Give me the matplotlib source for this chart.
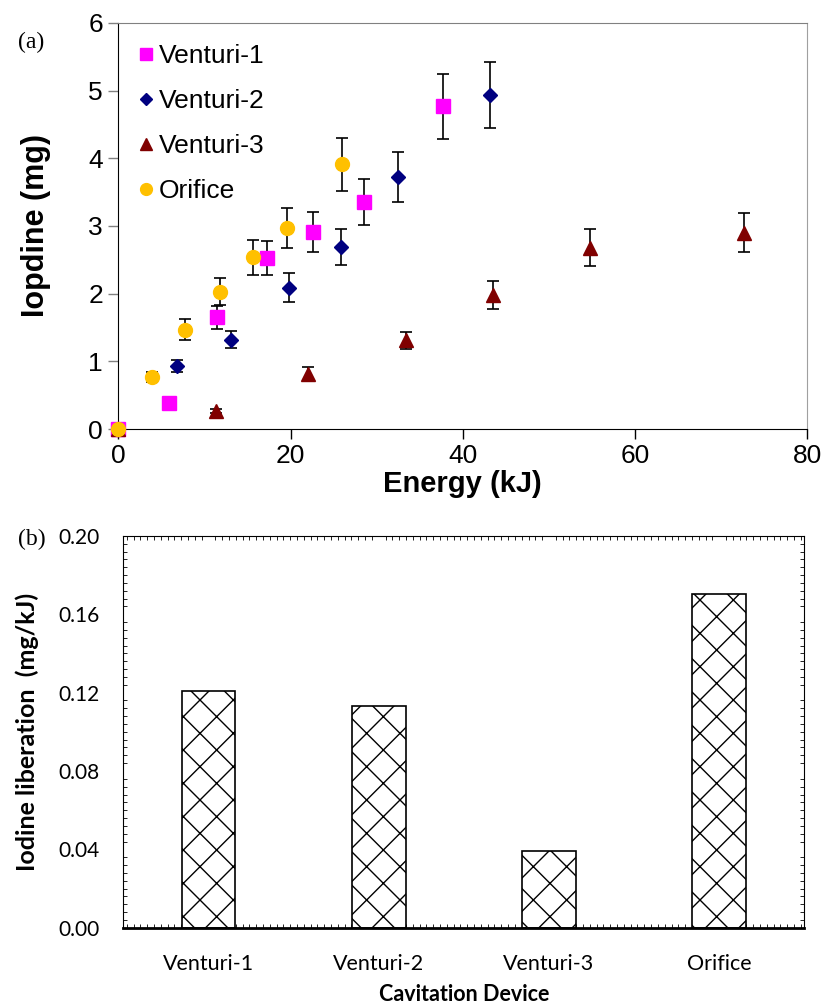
import matplotlib.pyplot as plt
import numpy as np
from matplotlib.ticker import MultipleLocator

# ---- data, panel (a): iodine liberated vs energy ----
v1_x = [0, 5.9, 11.5, 17.3, 22.6, 28.5, 37.7]
v1_y = [0, 0.38, 1.65, 2.53, 2.91, 3.35, 4.77]
v1_err = [0, 0, 0.17, 0.25, 0.29, 0.34, 0.48]

v2_x = [0, 6.8, 13.1, 19.8, 25.8, 32.5, 43.1]
v2_y = [0, 0.93, 1.32, 2.09, 2.69, 3.73, 4.94]
v2_err = [0, 0.09, 0.13, 0.21, 0.27, 0.37, 0.49]

v3_x = [0, 11.3, 22.0, 33.4, 43.5, 54.8, 72.6]
v3_y = [0, 0.26, 0.81, 1.31, 1.98, 2.68, 2.90]
v3_err = [0, 0.03, 0.10, 0.13, 0.20, 0.27, 0.29]

or_x = [0, 3.9, 7.8, 11.75, 15.65, 19.6, 26.0]
or_y = [0, 0.77, 1.47, 2.03, 2.54, 2.97, 3.91]
or_err = [0, 0.07, 0.15, 0.20, 0.26, 0.30, 0.39]

# ---- data, panel (b): iodine liberation per energy ----
devices = ['Venturi-1', 'Venturi-2', 'Venturi-3', 'Orifice']
liberation = [0.121, 0.113, 0.039, 0.1705]

fig = plt.figure(figsize=(8.25, 10.08), dpi=100)

# panel (a)
ax1 = fig.add_axes([0.1434, 0.5744, 0.8352, 0.4028])
series = [
    (v1_x, v1_y, v1_err, 's', '#FF00FF', 9.5, 'Venturi-1'),
    (v2_x, v2_y, v2_err, 'D', '#000080', 7.0, 'Venturi-2'),
    (v3_x, v3_y, v3_err, '^', '#800000', 9.5, 'Venturi-3'),
    (or_x, or_y, or_err, 'o', '#FFC000', 10.0, 'Orifice'),
]
for xs, ys, es, mk, col, ms, lab in series:
    ax1.errorbar(xs, ys, yerr=es, fmt='none', ecolor='black', elinewidth=1.2,
                 capsize=4.5, capthick=1.2, zorder=2)
    ax1.plot(xs, ys, linestyle='none', marker=mk, color=col, markersize=ms,
             label=lab, zorder=3, clip_on=False)

ax1.set_xlim(0, 80)
ax1.set_ylim(0, 6)
ax1.xaxis.set_major_locator(MultipleLocator(20))
ax1.yaxis.set_major_locator(MultipleLocator(1))
ax1.tick_params(direction='out', length=7, width=1, labelsize=19, pad=4,
                labelfontfamily='Liberation Sans')
ax1.tick_params(axis='y', color='#808080')
ax1.spines['top'].set_color('#808080')
ax1.spines['right'].set_color('#A0A0A0')
ax1.set_xlabel('Energy (kJ)', fontsize=21, fontweight='bold',
               family='Liberation Sans', labelpad=1)
ax1.set_ylabel('Iopdine (mg)', fontsize=22, fontweight='bold',
               family='Liberation Sans', labelpad=27)
leg = ax1.legend(loc='upper left', frameon=False,
                 prop={'family': 'Liberation Sans', 'size': 19},
                 handletextpad=0.25, handlelength=0.5, labelspacing=0.8,
                 borderaxespad=0.4, markerscale=0.85)

# panel (b)
ax2 = fig.add_axes([0.1495, 0.0796, 0.8254, 0.3888])
xpos = np.arange(len(devices))
ax2.bar(xpos, liberation, width=0.315, color='white', edgecolor='black',
        linewidth=1.2, hatch='x', zorder=2)
ax2.set_xlim(-0.5, 3.5)
ax2.set_ylim(0, 0.20)
ax2.set_xticks(xpos)
ax2.set_xticklabels(devices)
ax2.yaxis.set_major_locator(MultipleLocator(0.04))
ax2.yaxis.set_minor_locator(MultipleLocator(0.004))
ax2.xaxis.set_minor_locator(MultipleLocator(0.04))
ax2.yaxis.set_major_formatter(plt.FormatStrFormatter('%.2f'))
ax2.tick_params(axis='x', which='major', length=0, pad=19, labelsize=15.5)
ax2.tick_params(axis='y', which='major', length=0, pad=17, labelsize=15)
ax2.tick_params(which='minor', direction='in', length=3, width=0.6,
                top=True, right=True, bottom=True, left=True)
for lab in ax2.get_xticklabels() + ax2.get_yticklabels():
    lab.set_family('Lato')
ax2.spines['bottom'].set_linewidth(2)
ax2.set_xlabel('Cavitation Device', fontsize=15.5, fontweight='bold',
               family='Lato', labelpad=7)
ax2.set_ylabel('Iodine liberation  (mg/kJ)', fontsize=18, fontweight='bold',
               family='Lato', labelpad=14)

fig.text(0.022, 0.952, '(a)', fontsize=17, family='Liberation Serif')
fig.text(0.022, 0.459, '(b)', fontsize=17, family='Liberation Serif')

plt.savefig('out.png', dpi=100)
